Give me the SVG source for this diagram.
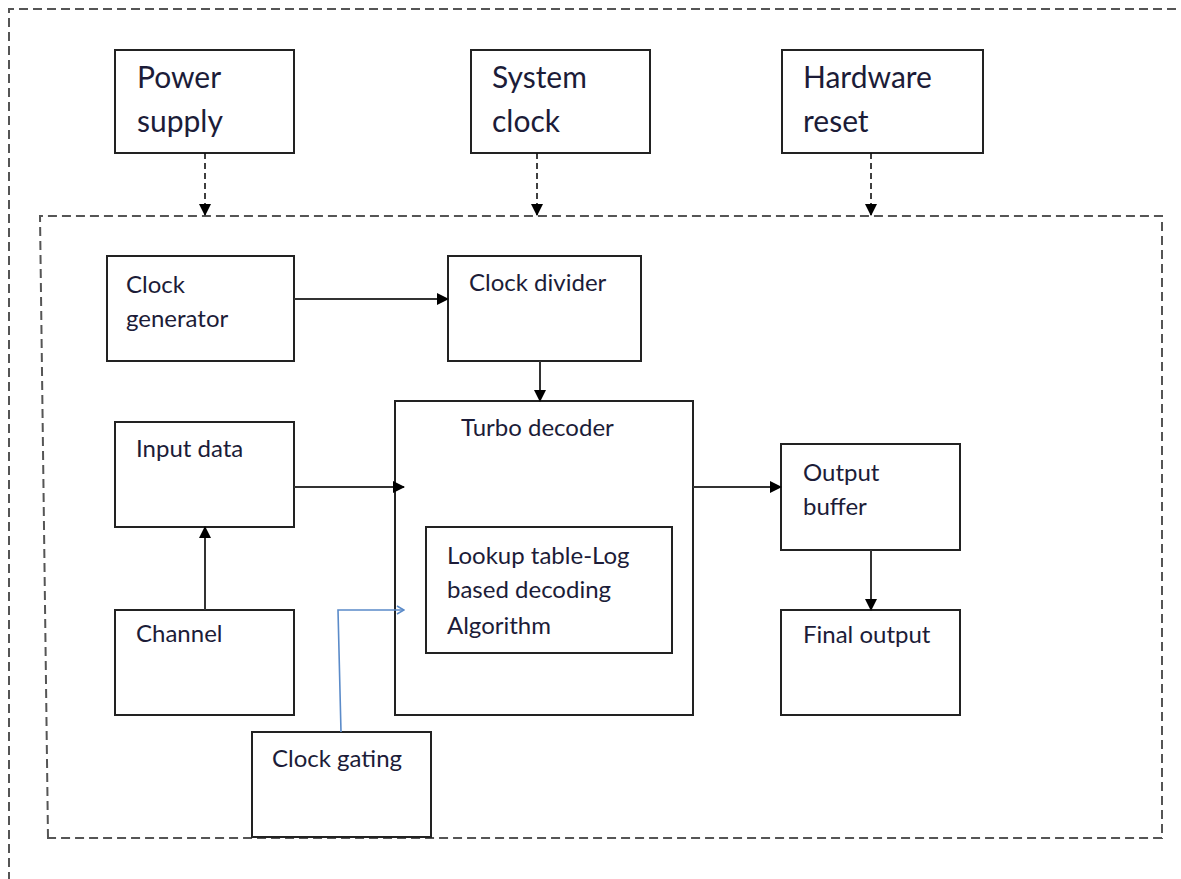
<svg xmlns="http://www.w3.org/2000/svg" width="1181" height="879" viewBox="0 0 1181 879">
<style>
.box{fill:#fff;stroke:#222;stroke-width:2}
.frame{fill:none;stroke:#555;stroke-width:2;stroke-dasharray:9 5}
.lbl{font-family:Lato,"Open Sans",sans-serif;font-size:24px;fill:#1c1c38}
.big{font-size:30px}
.sol{stroke:#333;stroke-width:2;fill:none}
.dsh{stroke:#111;stroke-width:1.6;fill:none;stroke-dasharray:6 4}
.blu{stroke:#5b8bc9;stroke-width:1.6;fill:none}
</style>
<defs>
<marker id="ah" markerWidth="12" markerHeight="12" refX="11" refY="6" orient="auto" markerUnits="userSpaceOnUse">
<path d="M0,0 L12,6 L0,12 Z" fill="#000"/>
</marker>
<marker id="ahb" markerWidth="10" markerHeight="10" refX="9" refY="5" orient="auto" markerUnits="userSpaceOnUse">
<path d="M2,1 L9,5 L2,9" fill="none" stroke="#5b8bc9" stroke-width="1.6"/>
</marker>
</defs>
<rect width="1181" height="879" fill="#fff"/>
<g id="frames">
<path class="frame" d="M1190,9 H9 V890"/>
<path class="frame" d="M48,838 L40,216 H1162 V838 Z"/>
</g>
<g id="power-supply"><rect class="box" x="115" y="50" width="179" height="103"/><text class="lbl big" x="137" y="88">Power</text><text class="lbl big" x="137" y="132">supply</text></g>
<g id="system-clock"><rect class="box" x="471" y="50" width="179" height="103"/><text class="lbl big" x="492" y="88">System</text><text class="lbl big" x="492" y="132">clock</text></g>
<g id="hardware-reset"><rect class="box" x="782" y="50" width="201" height="103"/><text class="lbl big" x="803" y="88">Hardware</text><text class="lbl big" x="803" y="132">reset</text></g>
<g id="clock-generator"><rect class="box" x="107" y="256" width="187" height="105"/><text class="lbl" x="126" y="293">Clock</text><text class="lbl" x="126" y="327">generator</text></g>
<g id="clock-divider"><rect class="box" x="448" y="256" width="193" height="105"/><text class="lbl" x="469" y="291">Clock divider</text></g>
<g id="turbo-decoder"><rect class="box" x="395" y="401" width="298" height="314"/><text class="lbl" x="461" y="436">Turbo decoder</text></g>
<g id="lookup-table"><rect class="box" x="426" y="527" width="246" height="126"/><text class="lbl" x="447" y="564">Lookup table-Log</text><text class="lbl" x="447" y="598">based decoding</text><text class="lbl" x="447" y="634">Algorithm</text></g>
<g id="input-data"><rect class="box" x="115" y="422" width="179" height="105"/><text class="lbl" x="136" y="457">Input data</text></g>
<g id="channel"><rect class="box" x="115" y="610" width="179" height="105"/><text class="lbl" x="136" y="642">Channel</text></g>
<g id="clock-gating"><rect class="box" x="252" y="732" width="179" height="105"/><text class="lbl" x="272" y="767">Clock gating</text></g>
<g id="output-buffer"><rect class="box" x="781" y="444" width="179" height="106"/><text class="lbl" x="803" y="481">Output</text><text class="lbl" x="803" y="515">buffer</text></g>
<g id="final-output"><rect class="box" x="781" y="610" width="179" height="105"/><text class="lbl" x="803" y="643">Final output</text></g>
<g id="connectors">
<line class="dsh" x1="205" y1="153" x2="205" y2="215" marker-end="url(#ah)"/>
<line class="dsh" x1="537" y1="153" x2="537" y2="215" marker-end="url(#ah)"/>
<line class="dsh" x1="871" y1="153" x2="871" y2="215" marker-end="url(#ah)"/>
<line class="sol" x1="294" y1="299" x2="448" y2="299" marker-end="url(#ah)"/>
<line class="sol" x1="540" y1="361" x2="540" y2="401" marker-end="url(#ah)"/>
<line class="sol" x1="294" y1="487" x2="404" y2="487" marker-end="url(#ah)"/>
<line class="sol" x1="205" y1="610" x2="205" y2="527" marker-end="url(#ah)"/>
<line class="sol" x1="693" y1="487" x2="781" y2="487" marker-end="url(#ah)"/>
<line class="sol" x1="871" y1="550" x2="871" y2="610" marker-end="url(#ah)"/>
<path class="blu" d="M341,732 L338,610 H404" marker-end="url(#ahb)"/>
</g>
</svg>
